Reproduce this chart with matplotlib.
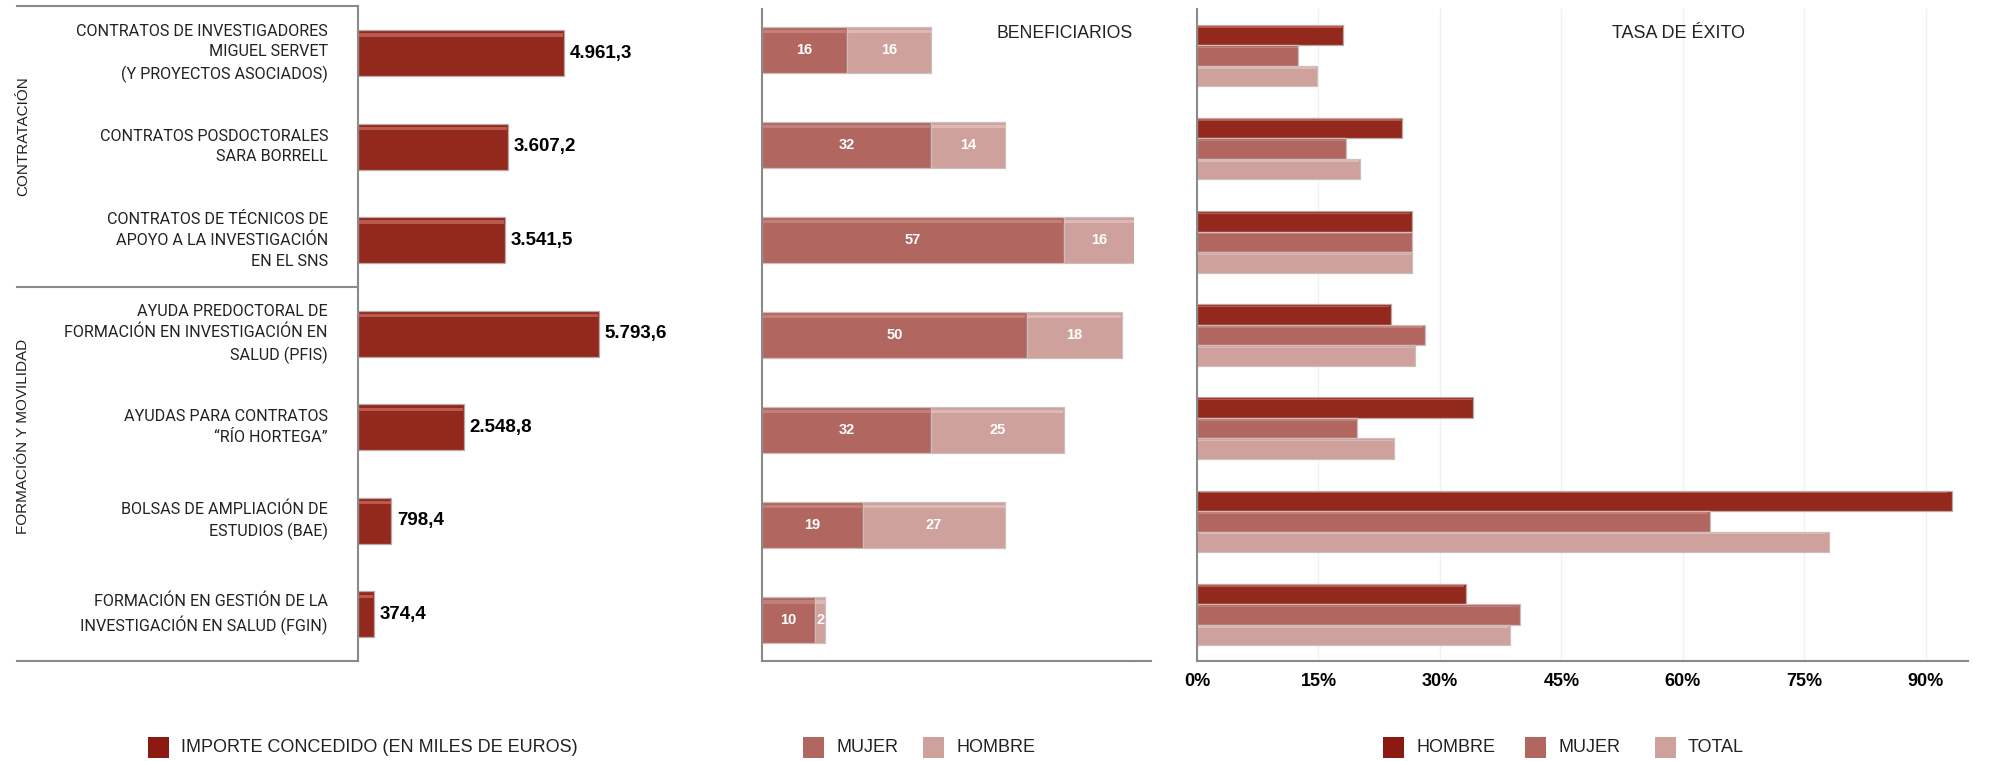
import matplotlib
matplotlib.use("Agg")
import matplotlib.pyplot as plt
from matplotlib.patches import Rectangle
from matplotlib.lines import Line2D
from matplotlib import transforms as mtrans

# ---------------- data ----------------
categories = [
    "CONTRATOS DE INVESTIGADORES\nMIGUEL SERVET\n(Y PROYECTOS ASOCIADOS)",
    "CONTRATOS POSDOCTORALES\nSARA BORRELL",
    "CONTRATOS DE TÉCNICOS DE\nAPOYO A LA INVESTIGACIÓN\nEN EL SNS",
    "AYUDA PREDOCTORAL DE\nFORMACIÓN EN INVESTIGACIÓN EN\nSALUD (PFIS)",
    "AYUDAS PARA CONTRATOS\n\u201cRÍO HORTEGA\u201d",
    "BOLSAS DE AMPLIACIÓN DE\nESTUDIOS (BAE)",
    "FORMACIÓN EN GESTIÓN DE LA\nINVESTIGACIÓN EN SALUD (FGIN)",
]
groups = ["CONTRATACIÓN", "FORMACIÓN Y MOVILIDAD"]
importe = [4961.3, 3607.2, 3541.5, 5793.6, 2548.8, 798.4, 374.4]
benef_mujer = [16, 32, 57, 50, 32, 19, 10]
benef_hombre = [16, 14, 16, 18, 25, 27, 2]
tasa_hombre = [18.0, 25.3, 26.5, 23.9, 34.1, 93.2, 33.2]
tasa_mujer = [12.5, 18.4, 26.5, 28.1, 19.7, 63.3, 39.9]
tasa_total = [14.8, 20.1, 26.6, 26.9, 24.3, 78.0, 38.6]
tasa_ticks = [0, 15, 30, 45, 60, 75, 90]
legend_importe = "IMPORTE CONCEDIDO (EN MILES DE EUROS)"
legend_benef = ["MUJER", "HOMBRE"]
legend_tasa = ["HOMBRE", "MUJER", "TOTAL"]
title_benef = "BENEFICIARIOS"
title_tasa = "TASA DE ÉXITO"

# ---------------- style ----------------
FONT = "Liberation Sans"
plt.rcParams["font.family"] = [FONT, "DejaVu Sans"]
LABEL_FONT = ["Roboto", "Liberation Sans", "DejaVu Sans"]
DARK = "#93291D"
MID = "#B1665F"
LIGHT = "#CFA19D"
DARK_LEG = "#8C1A10"
TXT = "#222222"
SPINE = "#8a8a8a"

W, H = 2004, 761
fig = plt.figure(figsize=(W / 100, H / 100), dpi=100)


def fx(px):
    return px / W


def fy(py):
    return 1 - py / H


def axes_px(x0, y0, x1, y1):
    return fig.add_axes([fx(x0), fy(y1), fx(x1 - x0), (y1 - y0) / H])


def bevel(container, hi_color, edge="#cbbebc"):
    ax = container.patches[0].axes
    for p in container.patches:
        x, y, w, h = p.get_x(), p.get_y(), p.get_width(), p.get_height()
        p.set_edgecolor(edge)
        p.set_linewidth(0.9)
        if w <= 0:
            continue
        ax.add_patch(Rectangle((x + w * 0.004, y + h * 0.07), w * 0.99, h * 0.07,
                               facecolor=hi_color, edgecolor="none", alpha=0.75,
                               zorder=p.get_zorder() + 0.1))


def spanish(v):
    s = f"{v:,.1f}"
    return s.replace(",", "X").replace(".", ",").replace("X", ".")


n = len(categories)
pos = list(range(n))

# ---------------- panel 1: importe ----------------
ax1 = axes_px(358, 6.4, 740, 661)
b1 = ax1.barh(pos, importe, height=0.49, color=DARK, zorder=2)
bevel(b1, "#c86a60", edge="#b9a9a7")
ax1.bar_label(b1, labels=[spanish(v) for v in importe], padding=4,
              fontsize=13.5, fontweight="bold", color="black")
ax1.set_xlim(0, 9183)
ax1.set_ylim(n - 0.5, -0.5)
for s in ["top", "right", "bottom"]:
    ax1.spines[s].set_visible(False)
ax1.spines["left"].set_color(SPINE)
ax1.spines["left"].set_linewidth(1.5)
ax1.set_xticks([])
ax1.set_yticks([])

tr_lab = mtrans.blended_transform_factory(fig.transFigure, ax1.transData)
for i, lab in enumerate(categories):
    ax1.text(fx(328), i, lab, transform=tr_lab, ha="right", va="center",
             multialignment="right", fontsize=11.6, color=TXT, linespacing=1.47,
             family=LABEL_FONT)
# table lines left of the axis
for yv in [-0.5, 2.5, n - 0.5]:
    ax1.add_line(Line2D([fx(17), fx(358)], [yv, yv], transform=tr_lab,
                        color=SPINE, lw=1.5, clip_on=False))
fig.text(fx(23), fy(136), groups[0], rotation=90, ha="center", va="center",
         fontsize=11, color=TXT)
fig.text(fx(23), fy(436), groups[1], rotation=90, ha="center", va="center",
         fontsize=11, color=TXT)

# ---------------- panel 2: beneficiarios ----------------
ax2 = axes_px(762, 9, 1134, 661)
b2m = ax2.barh(pos, benef_mujer, height=0.485, color=MID, zorder=2)
b2h = ax2.barh(pos, benef_hombre, left=benef_mujer, height=0.485, color=LIGHT, zorder=2)
bevel(b2m, "#c98a84")
bevel(b2h, "#e2c2bf")
ax2.bar_label(b2m, label_type="center", color="white", fontsize=10.5, fontweight="bold")
ax2.bar_label(b2h, label_type="center", color="white", fontsize=10.5, fontweight="bold")
ax2.set_xlim(0, 70.3)
ax2.set_ylim(n - 1 + 0.43, -0.43)
for s in ["top", "right"]:
    ax2.spines[s].set_visible(False)
for s in ["left", "bottom"]:
    ax2.spines[s].set_color(SPINE)
    ax2.spines[s].set_linewidth(1.5)
ax2.set_xticks([])
ax2.set_yticks([])
fig.add_artist(Line2D([fx(1134), fx(1151)], [fy(661), fy(661)], color=SPINE, lw=1.5))
fig.text(fx(1133), fy(34), title_benef, ha="right", va="center", fontsize=12.7, color=TXT)

# ---------------- panel 3: tasa de exito ----------------
ax3 = axes_px(1197, 9, 1968, 661)
bh = 0.22
yh = [p - bh for p in pos]
ym = pos
yt = [p + bh for p in pos]
b3h = ax3.barh(yh, tasa_hombre, height=bh, color=DARK, zorder=2)
b3m = ax3.barh(ym, tasa_mujer, height=bh, color=MID, zorder=2)
b3t = ax3.barh(yt, tasa_total, height=bh, color=LIGHT, zorder=2)
bevel(b3h, "#c86a60", edge="#b9a9a7")
bevel(b3m, "#c98a84")
bevel(b3t, "#e2c2bf")
ax3.set_xlim(0, 95.2)
ax3.set_ylim(n - 0.5, -0.5)
ax3.set_xticks(tasa_ticks)
ax3.set_xticklabels([f"{t}%" for t in tasa_ticks], fontsize=13, fontweight="bold")
ax3.tick_params(axis="x", length=0, pad=9, colors="black")
ax3.set_yticks([])
ax3.grid(axis="x", color="#f1f1f1", lw=1, zorder=0)
ax3.add_patch(Rectangle((0.59, 0.855), 0.41, 0.145, transform=ax3.transAxes,
                        facecolor="white", edgecolor="none", zorder=1))
for s in ["top", "right"]:
    ax3.spines[s].set_visible(False)
for s in ["left", "bottom"]:
    ax3.spines[s].set_color(SPINE)
    ax3.spines[s].set_linewidth(1.5)
fig.text(fx(1678), fy(34), title_tasa, ha="center", va="center", fontsize=13, color=TXT)

# ---------------- legends ----------------
def legend_item(x_sw, color, label, size=13):
    fig.add_artist(Rectangle((fx(x_sw), fy(758)), fx(21), 21 / H,
                             transform=fig.transFigure, facecolor=color, edgecolor="none"))
    fig.text(fx(x_sw + 33), fy(748), label, ha="left", va="center", fontsize=size, color=TXT)

legend_item(148, DARK_LEG, legend_importe)
for x_sw, col, lab in zip([803, 923], [MID, LIGHT], legend_benef):
    legend_item(x_sw, col, lab)
for x_sw, col, lab in zip([1383, 1525, 1655], [DARK_LEG, MID, LIGHT], legend_tasa):
    legend_item(x_sw, col, lab)

fig.savefig("out.png", dpi=100, facecolor="white")
